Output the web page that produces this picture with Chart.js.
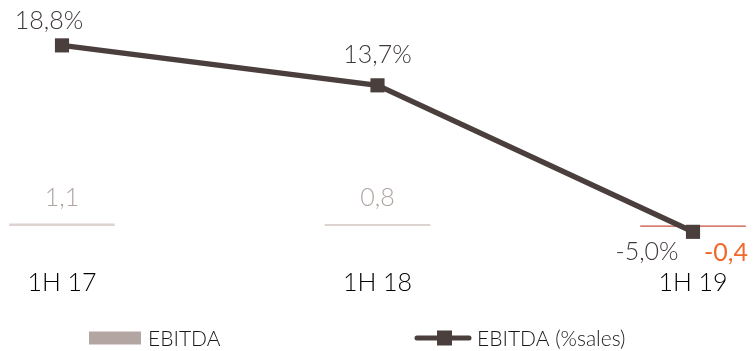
<!DOCTYPE html>
<html>
<head>
<meta charset="utf-8">
<script src="https://cdn.jsdelivr.net/npm/chart.js@4/dist/chart.umd.min.js"></script>
<style>
  html, body { margin: 0; padding: 0; background: #ffffff; }
  #wrap { width: 755px; height: 351px; }
</style>
</head>
<body>
<div id="wrap"><canvas id="c" width="755" height="351"></canvas></div>
<script>
const categories = ['1H 17', '1H 18', '1H 19'];
const ebitda = [1.1, 0.8, -0.4];
const ebitdaPct = [18.8, 13.7, -5.0];
const seriesNames = ['EBITDA', 'EBITDA (%sales)'];

const FONT = 'Lato, "Open Sans", sans-serif';
const LINE_COLOR = '#4a3f3d';
const BAR_COLOR = '#ddd4d1';
const BAR_NEG_COLOR = '#c9503f';
const LEGEND_BAR_COLOR = '#b3a5a1';

const fmt = (v, pct) => v.toFixed(1).replace('.', ',') + (pct ? '%' : '');

const labelPlugin = {
  id: 'labels',
  afterDatasetsDraw(chart) {
    const ctx = chart.ctx;
    ctx.save();
    ctx.textAlign = 'center';
    ctx.textBaseline = 'middle';
    const barMeta = chart.getDatasetMeta(0);
    barMeta.data.forEach((el, i) => {
      const v = ebitda[i];
      if (v >= 0) {
        ctx.font = '300 25px ' + FONT;
        ctx.fillStyle = '#b0a4a0';
        ctx.fillText(fmt(v), el.x, el.base - 28);
      } else {
        ctx.font = '400 25px ' + FONT;
        ctx.fillStyle = '#f0682a';
        ctx.fillText(fmt(v), el.x + 33, el.base + 27);
      }
    });
    const lineMeta = chart.getDatasetMeta(1);
    ctx.font = '300 25px ' + FONT;
    ctx.fillStyle = '#3f3838';
    lineMeta.data.forEach((el, i) => {
      const v = ebitdaPct[i];
      let dx = 0, dy = -30;
      if (i === 0) { dx = -13; dy = -24; }
      if (v < 0) { dx = -46; dy = 20; }
      ctx.fillText(fmt(v, true), el.x + dx, el.y + dy);
    });
    ctx.restore();
  },
  afterDraw(chart) {
    const ctx = chart.ctx;
    ctx.save();
    const y = 338;
    ctx.fillStyle = LEGEND_BAR_COLOR;
    ctx.fillRect(89, y - 6.5, 52, 13);
    ctx.font = '300 21px ' + FONT;
    ctx.textBaseline = 'middle';
    ctx.textAlign = 'left';
    ctx.fillStyle = '#1a1a1a';
    ctx.fillText(seriesNames[0], 148, y + 1);
    ctx.strokeStyle = LINE_COLOR;
    ctx.lineWidth = 5;
    ctx.lineCap = 'round';
    ctx.beginPath();
    ctx.moveTo(417, y);
    ctx.lineTo(469, y);
    ctx.stroke();
    ctx.fillStyle = LINE_COLOR;
    ctx.fillRect(437, y - 7.5, 15, 15);
    ctx.fillStyle = '#1a1a1a';
    ctx.fillText(seriesNames[1], 477, y + 1);
    ctx.restore();
  }
};

new Chart(document.getElementById('c'), {
  data: {
    labels: categories,
    datasets: [
      {
        type: 'bar',
        label: seriesNames[0],
        data: ebitda,
        yAxisID: 'yBar',
        backgroundColor: ebitda.map(v => v >= 0 ? BAR_COLOR : BAR_NEG_COLOR),
        barThickness: 105,
        clip: false,
        order: 1
      },
      {
        type: 'line',
        label: seriesNames[1],
        data: ebitdaPct,
        yAxisID: 'yLine',
        borderColor: LINE_COLOR,
        backgroundColor: LINE_COLOR,
        borderWidth: 5.5,
        pointStyle: 'rect',
        pointRadius: 10,
        pointBorderWidth: 0,
        tension: 0,
        clip: false,
        order: 0
      }
    ]
  },
  options: {
    responsive: false,
    animation: false,
    devicePixelRatio: 1,
    layout: { padding: { left: 62, right: 62, top: 20, bottom: 43 } },
    scales: {
      x: {
        type: 'category',
        offset: false,
        grid: { display: false, drawTicks: false },
        border: { display: false },
        ticks: { color: '#000000', font: { family: FONT, size: 25, weight: '300' }, padding: 10, maxRotation: 0, autoSkip: false }
      },
      yBar: { display: false, min: -17.7, max: 113 },
      yLine: { display: false, min: -8.34, max: 22.04 }
    },
    plugins: { legend: { display: false }, tooltip: { enabled: false } }
  },
  plugins: [labelPlugin]
});
</script>
</body>
</html>
